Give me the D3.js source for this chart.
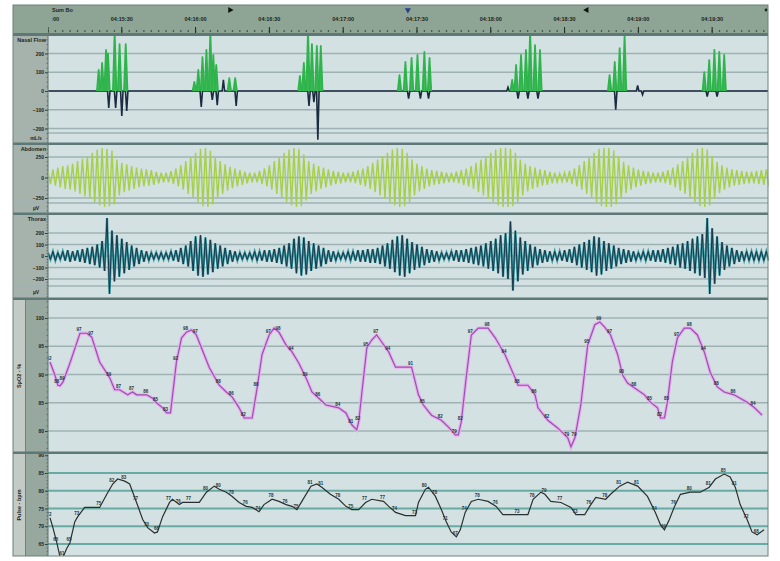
<!DOCTYPE html>
<html>
<head>
<meta charset="utf-8">
<script src="https://cdn.jsdelivr.net/npm/d3@7"></script>
<style>
  body { margin: 0; background: #fff; }
  svg { display: block; }
  text { font-family: "Liberation Sans", Arial, sans-serif; }
</style>
</head>
<body>
<div id="chart"></div>
<script>
// TIME AXIS (seconds after 04:15:00)
var timeTicks = [0, 30, 60, 90, 120, 150, 180, 210, 240, 270];
var timeLabels = ["04:15:00", "04:15:30", "04:16:00", "04:16:30", "04:17:00",
                  "04:17:30", "04:18:00", "04:18:30", "04:19:00", "04:19:30"];
var markerTimes = [74, 146.3, 219, 292];

// Y TICKS
var nasalTicks = [200, 100, 0, -100, -200];
var abdomenTicks = [250, 0, -250];
var thoraxTicks = [200, 100, 0, -100, -200];
var spo2Ticks = [100, 95, 90, 85, 80];
var pulseTicks = [90, 85, 80, 75, 70, 65];

// NASAL FLOW - inspiratory spikes (green) [t, mL/s]
var nasalInsp = [
  [20.6, 112], [22.0, 150], [23.6, 219], [24.4, 200], [27.1, 320], [29.1, 250], [31.6, 250],
  [59.5, 48], [61.1, 112], [62.8, 181], [64.4, 219], [66.0, 320], [67.2, 192], [68.4, 139], [73.7, 69], [76.1, 69],
  [102.4, 80], [104.0, 150], [105.7, 320], [107.3, 250], [109.3, 240], [110.9, 240],
  [142.9, 85], [145.3, 155], [147.8, 176], [150.2, 192], [153.0, 208], [155.1, 176],
  [188.7, 59], [190.3, 139], [192.3, 192], [194.3, 219], [196.0, 320], [198.0, 245], [200.0, 219],
  [228.3, 85], [230.4, 155], [232.4, 229], [234.4, 300],
  [266.8, 101], [268.8, 165], [270.9, 219], [272.9, 208], [274.9, 192]
];
// NASAL FLOW - baseline deflections (dark) [t, mL/s]
var nasalBase = [
  [24.7, -91], [27.5, -91], [30.0, -133], [32.0, -107],
  [62.3, -85], [66.8, -48], [68.8, -75], [71.3, 59], [76.5, -80],
  [106.1, -80], [108.1, -60], [109.7, -260],
  [146.6, -40], [151.4, -40], [154.7, -40],
  [187.0, 20], [191.1, -40], [195.1, -40], [199.2, -40],
  [230.8, -100], [239.7, 30], [241.7, -20],
  [268.0, -30], [272.0, -30]
];

// EFFORT BELTS - amplitude of each 2 s breath (µV)
var breathStep = 2;
var abdomenAmp = [
  80, 100, 120, 140, 150, 170, 200, 230, 260, 300, 340, 360, 350, 330,
  220, 180, 160, 140, 120, 110, 100, 90, 70, 60, 60, 80, 110, 150, 200,
  250, 300, 350, 360, 330, 250, 200, 160, 130, 110, 90, 70, 60, 60, 80,
  110, 150, 200, 250, 300, 340, 360, 350, 280, 200, 170, 140, 120, 100, 80,
  70, 60, 60, 70, 90, 110, 140, 180, 220, 260, 300, 340, 360, 350, 300,
  220, 170, 140, 110, 90, 80, 70, 60, 60, 70, 90, 110, 140, 180, 220,
  260, 300, 340, 360, 360, 350, 300, 220, 170, 140, 120, 100, 90, 70, 60,
  50, 60, 80, 110, 150, 200, 250, 300, 350, 360, 360, 330, 260, 190, 150,
  120, 100, 80, 70, 60, 60, 70, 90, 120, 160, 200, 250, 300, 350, 360,
  340, 260, 190, 150, 120, 100, 90, 80, 70, 70, 80, 90, 100
];
var thoraxAmp = [
  30, 40, 30, 40, 50, 40, 50, 60, 70, 80, 100, 130, 330, 220,
  180, 150, 120, 90, 70, 50, 40, 30, 30, 30, 30, 40, 50, 70, 90,
  130, 170, 180, 160, 140, 110, 90, 70, 50, 40, 30, 30, 30, 40, 40,
  50, 50, 60, 70, 90, 110, 150, 170, 160, 130, 110, 90, 70, 50, 40,
  30, 30, 40, 40, 50, 50, 60, 60, 70, 90, 110, 140, 170, 180, 150,
  120, 100, 80, 60, 50, 40, 30, 30, 40, 50, 50, 60, 70, 80, 90,
  110, 130, 150, 180, 200, 300, 220, 160, 130, 100, 80, 60, 50, 40, 40,
  40, 50, 60, 80, 100, 120, 140, 170, 160, 130, 110, 90, 70, 60, 50,
  40, 30, 40, 40, 50, 50, 60, 70, 80, 100, 110, 130, 150, 170, 190,
  330, 240, 170, 120, 90, 70, 50, 40, 40, 40, 40, 40, 40
];

// SPO2 [t, %]
var spo2 = [
  [0.8, 92.2], [2.8, 89.9], [4.0, 88.1], [4.9, 88.0], [6.1, 88.7], [8.9, 92.0], [13.0, 97.3], [15.8, 97.3],
  [17.8, 96.6], [21.0, 92.2], [25.1, 89.4], [27.1, 87.3], [29.1, 87.3], [32.4, 86.4], [34.4, 86.9], [36.0, 86.4],
  [40.1, 86.4], [42.5, 85.8], [44.1, 85.0], [46.6, 84.1], [48.2, 83.2], [49.8, 83.2], [52.2, 92.2], [54.3, 96.5],
  [56.3, 97.5], [58.3, 97.9], [60.3, 97.0], [65.6, 91.2], [69.6, 88.1], [72.5, 86.9], [74.9, 86.0], [77.7, 84.1],
  [79.8, 82.3], [83.0, 82.3], [85.0, 87.6], [87.0, 93.5], [89.9, 97.0], [91.9, 98.2], [93.9, 97.5], [96.8, 95.2],
  [99.2, 94.0], [102.0, 92.0], [104.9, 89.4], [107.3, 86.9], [110.1, 85.8], [113.0, 84.6], [118.2, 84.1], [121.1, 83.2],
  [123.5, 81.1], [125.5, 80.2], [126.3, 81.6], [127.5, 86.4], [129.6, 94.7], [131.6, 96.1], [133.6, 97.0], [135.6, 95.8],
  [138.5, 94.0], [141.3, 91.3], [147.8, 91.3], [150.6, 86.4], [152.6, 84.6], [155.9, 82.8], [159.9, 81.9], [162.8, 80.7],
  [165.6, 79.3], [166.8, 79.3], [168.0, 81.6], [170.0, 89.4], [172.1, 97.0], [174.9, 98.2], [178.9, 98.2], [181.8, 96.5],
  [185.8, 93.5], [189.9, 89.4], [191.1, 88.1], [195.1, 88.1], [198.0, 86.4], [199.2, 84.1], [203.2, 81.9], [207.3, 80.5],
  [211.3, 78.8], [212.6, 77.2], [214.2, 78.8], [216.6, 84.6], [219.4, 95.2], [222.3, 98.8], [224.3, 99.3], [226.3, 98.4],
  [228.7, 97.0], [231.6, 93.5], [233.6, 89.9], [235.6, 88.5], [238.5, 87.6], [242.5, 86.4], [244.9, 85.1], [247.8, 84.1],
  [249.0, 82.3], [250.6, 82.3], [251.8, 85.1], [253.8, 92.2], [255.9, 96.5], [258.7, 98.2], [261.1, 98.2], [264.0, 97.0],
  [266.8, 94.0], [269.2, 90.4], [272.1, 87.8], [274.9, 86.9], [278.9, 86.4], [284.2, 85.1], [287.0, 84.2], [290.3, 82.8]
];

// PULSE [t, bpm]
var pulse = [
  [0.8, 72.4], [2.0, 69.6], [3.6, 65.3], [4.9, 61.3], [6.1, 61.3], [7.7, 63.9], [8.9, 65.3], [10.9, 71.3],
  [12.1, 72.7], [14.9, 75.3], [21.0, 75.3], [23.9, 79.0], [26.3, 81.9], [28.3, 83.3], [31.2, 82.7], [33.2, 81.9],
  [36.0, 76.7], [38.5, 71.9], [40.5, 69.6], [43.3, 68.1], [44.5, 68.4], [46.6, 72.7], [49.4, 76.7], [50.6, 77.6],
  [53.4, 76.1], [54.7, 76.7], [57.5, 76.7], [61.5, 76.7], [64.4, 79.6], [67.6, 81.3], [69.6, 80.4], [72.5, 79.6],
  [74.9, 78.4], [77.7, 76.7], [80.6, 75.6], [83.0, 75.3], [85.8, 74.1], [87.8, 76.1], [91.1, 77.6], [93.9, 77.0],
  [96.8, 76.1], [99.2, 75.6], [101.2, 74.7], [103.2, 77.0], [106.9, 81.3], [109.3, 81.9], [111.3, 81.0], [114.8, 79.0],
  [118.2, 77.6], [121.1, 75.6], [123.5, 74.7], [126.3, 74.7], [129.1, 76.7], [131.6, 77.6], [136.4, 77.0], [138.5, 75.6],
  [141.3, 73.9], [145.3, 73.0], [149.4, 73.0], [150.6, 76.7], [153.4, 80.4], [154.7, 81.0], [157.5, 78.4], [159.9, 74.7],
  [161.9, 71.3], [163.9, 68.4], [166.0, 67.0], [167.6, 69.0], [169.6, 73.9], [172.1, 77.0], [174.9, 77.6], [178.9, 77.0],
  [182.2, 75.6], [184.9, 73.3], [191.1, 73.3], [195.1, 73.3], [197.2, 77.6], [200.4, 79.6], [202.0, 79.0], [204.4, 77.0],
  [208.5, 76.7], [212.6, 75.3], [214.6, 73.3], [218.2, 73.3], [220.2, 75.6], [222.7, 78.1], [226.7, 77.6], [228.7, 79.0],
  [232.4, 81.3], [235.6, 82.4], [239.7, 81.3], [243.7, 78.4], [246.9, 73.9], [249.0, 70.4], [250.6, 69.0], [252.6, 71.9],
  [254.7, 75.6], [257.1, 79.0], [261.1, 79.6], [265.2, 79.6], [268.8, 81.0], [271.3, 83.3], [274.9, 84.7], [277.3, 83.9],
  [279.4, 81.0], [281.4, 76.1], [284.2, 71.9], [286.2, 68.4], [288.3, 67.6], [291.1, 69.0]
];

// LAYOUT
var frameL = 13, frameR = 768, plotL = 48, frameTop = 5;
var plotBg = '#d3e1e2', gridCol = '#9fb2b3', sepCol = '#5d7877', colBg = '#a6b2ac';

var svg = d3.select('#chart').append('svg').attr('width', 780).attr('height', 561);

var x = d3.scaleLinear().domain([0, 292.7]).range([plotL, frameR]);

// frame + header
svg.append('rect').attr('x', frameL).attr('y', frameTop).attr('width', frameR - frameL)
  .attr('height', 551).attr('fill', colBg);
svg.append('rect').attr('x', frameL).attr('y', frameTop).attr('width', frameR - frameL)
  .attr('height', 28).attr('fill', '#8ea595');
svg.append('rect').attr('x', frameL).attr('y', 33).attr('width', frameR - frameL)
  .attr('height', 3).attr('fill', sepCol);

svg.append('text').attr('x', 52).attr('y', 12).attr('font-size', 5.5).attr('font-weight', 'bold')
  .attr('fill', '#1d2622').text('Sum Bo');

svg.append('clipPath').attr('id', 'hdrclip').append('rect')
  .attr('x', 52).attr('y', 0).attr('width', frameR - 52).attr('height', 40);
svg.append('clipPath').attr('id', 'tickclip').append('rect')
  .attr('x', plotL).attr('y', 0).attr('width', frameR - plotL).attr('height', 40);

var hdr = svg.append('g').attr('clip-path', 'url(#hdrclip)');
hdr.selectAll('text.tl').data(timeTicks).enter().append('text')
  .attr('class', 'tl')
  .attr('x', (d) => x(d))
  .attr('y', 21)
  .attr('text-anchor', 'middle')
  .attr('font-size', 5.5).attr('font-weight', 'bold').attr('fill', '#1a2420')
  .text((d, i) => timeLabels[i]);
var tk = svg.append('g').attr('clip-path', 'url(#tickclip)');
tk.selectAll('line.maj').data(timeTicks).enter().append('line')
  .attr('x1', (d) => x(d)).attr('x2', (d) => x(d))
  .attr('y1', 27).attr('y2', 33).attr('stroke', '#222').attr('stroke-width', 1);
tk.selectAll('circle.min').data(d3.range(0, 293, 3)).enter().append('circle')
  .attr('cx', (d) => x(d)).attr('cy', 31).attr('r', 0.8).attr('fill', '#26322f');

// header markers
var markerShapes = [
  { type: d3.symbolTriangle, rot: 90, fill: '#111' },
  { type: d3.symbolTriangle, rot: 180, fill: '#2b3f86' },
  { type: d3.symbolTriangle, rot: -90, fill: '#111' },
  { type: d3.symbolCircle, rot: 0, fill: '#222' }
];
svg.selectAll('path.mk').data(markerTimes).enter().append('path')
  .attr('d', (d, i) => d3.symbol().type(markerShapes[i].type).size(i === 3 ? 6 : 16)())
  .attr('transform', (d, i) => 'translate(' + Math.min(x(d), 766) + ',10) rotate(' + markerShapes[i].rot + ')')
  .attr('fill', (d, i) => markerShapes[i].fill);

// PANELS
var panels = [
  { id: 'nasal', top: 36, bottom: 143, unitY: 133, unit: 'mL/s', title: 'Nasal Flow',
    y: d3.scaleLinear().domain([-200, 200]).range([128.5, 53.5]), ticks: nasalTicks, minor: 25 },
  { id: 'abd', top: 145, bottom: 213, unitY: 203, unit: 'µV', title: 'Abdomen',
    y: d3.scaleLinear().domain([-250, 250]).range([198, 157]), ticks: abdomenTicks, minor: 50 },
  { id: 'thx', top: 215, bottom: 298, unitY: 286, unit: 'µV', title: 'Thorax',
    y: d3.scaleLinear().domain([-200, 200]).range([279, 233]), ticks: thoraxTicks, minor: 25 },
  { id: 'spo2', top: 300, bottom: 452, title: 'SpO2 - %', rotated: true,
    y: d3.scaleLinear().domain([80, 100]).range([431, 318]), ticks: spo2Ticks, minor: 1 },
  { id: 'pulse', top: 454, bottom: 556, title: 'Pulse - bpm', rotated: true,
    y: d3.scaleLinear().domain([65, 85]).range([544, 473]), ticks: pulseTicks, minor: 1 }
];

panels.forEach(function (p) {
  var g = svg.append('g');
  g.append('rect').attr('x', plotL).attr('y', p.top).attr('width', frameR - plotL)
    .attr('height', p.bottom - p.top).attr('fill', plotBg);

  if (p.rotated) {
    g.append('rect').attr('x', frameL).attr('y', p.top).attr('width', 12)
      .attr('height', p.bottom - p.top).attr('fill', '#c2cbc6');
    g.append('rect').attr('x', 25).attr('y', p.top).attr('width', plotL - 25)
      .attr('height', p.bottom - p.top).attr('fill', '#97a89e');
    g.append('line').attr('x1', 25.5).attr('x2', 25.5).attr('y1', p.top).attr('y2', p.bottom)
      .attr('stroke', '#6f837a').attr('stroke-width', 1);
    var cy = (p.top + p.bottom) / 2;
    g.append('text').attr('transform', 'translate(21,' + cy + ') rotate(-90)')
      .attr('text-anchor', 'middle').attr('font-size', 5.5).attr('font-weight', 'bold')
      .attr('fill', '#1d2622').text(p.title);
  } else {
    g.append('text').attr('x', plotL - 2).attr('y', p.top + 6).attr('text-anchor', 'end')
      .attr('font-size', 5.5).attr('font-weight', 'bold').attr('fill', '#1d2622').text(p.title);
    g.append('line').attr('x1', frameL).attr('x2', frameR).attr('y1', p.unitY).attr('y2', p.unitY)
      .attr('stroke', gridCol).attr('stroke-width', 1.5);
    g.append('text').attr('x', plotL - 12).attr('y', (p.unitY + p.bottom) / 2 + 2).attr('text-anchor', 'middle')
      .attr('font-size', 5).attr('font-weight', 'bold').attr('fill', '#1d2622').text(p.unit);
  }

  // gridlines
  var gridC = p.id === 'pulse' ? '#68aaa4' : gridCol;
  g.selectAll('line.grid').data(p.ticks.filter((d) => {
      var yy = p.y(d); return yy > p.top + 3 && yy < p.bottom - 1;
    })).enter().append('line')
    .attr('x1', plotL).attr('x2', frameR)
    .attr('y1', (d) => p.y(d)).attr('y2', (d) => p.y(d))
    .attr('stroke', gridC).attr('stroke-width', p.id === 'pulse' ? 1.8 : 1.5);

  // axis
  var lo = p.y.invert(p.bottom), hi = p.y.invert(p.top);
  var minorVals = d3.range(Math.ceil(lo / p.minor) * p.minor, hi, p.minor);
  var minorAxis = d3.axisLeft(p.y).tickValues(minorVals).tickSize(1.5).tickFormat('');
  var ga = g.append('g').attr('transform', 'translate(' + plotL + ',0)').call(minorAxis);
  ga.select('.domain').remove();
  ga.selectAll('line').attr('stroke', '#3c4a46').attr('stroke-width', 0.6);

  var majorAxis = d3.axisLeft(p.y).tickValues(p.ticks).tickSize(3).tickPadding(1);
  var gm = g.append('g').attr('transform', 'translate(' + plotL + ',0)').call(majorAxis);
  gm.select('.domain').remove();
  gm.selectAll('line').attr('stroke', '#2b3633').attr('stroke-width', 0.9);
  gm.selectAll('text').attr('font-size', 5).attr('font-weight', 'bold').attr('fill', '#1b2420')
    .attr('font-family', '"Liberation Sans", Arial, sans-serif');

  g.append('line').attr('x1', plotL).attr('x2', plotL).attr('y1', p.top).attr('y2', p.bottom)
    .attr('stroke', '#5f726c').attr('stroke-width', 1);

  svg.append('clipPath').attr('id', 'clip-' + p.id).append('rect')
    .attr('x', plotL + 0.5).attr('y', p.top).attr('width', frameR - plotL).attr('height', p.bottom - p.top);
  p.layer = svg.append('g').attr('clip-path', 'url(#clip-' + p.id + ')');
});

// separators
panels.slice(1).forEach(function (p) {
  svg.append('rect').attr('x', frameL).attr('y', p.top - 2.5).attr('width', frameR - frameL)
    .attr('height', 2.5).attr('fill', sepCol);
});
svg.append('rect').attr('x', frameL).attr('y', frameTop).attr('width', frameR - frameL)
  .attr('height', 551).attr('fill', 'none').attr('stroke', '#6d807a').attr('stroke-width', 1);

// NASAL FLOW
var pN = panels[0];
var basePts = [[0, 0]];
nasalBase.forEach(function (d) { basePts.push([d[0] - 0.5, 0], d, [d[0] + 0.5, 0]); });
basePts.push([292.7, 0]);
pN.layer.append('path')
  .attr('d', d3.line().x((d) => x(d[0])).y((d) => pN.y(d[1]))(basePts))
  .attr('fill', 'none').attr('stroke', '#1b2b40').attr('stroke-width', 1.6);
pN.layer.selectAll('path.insp').data(nasalInsp).enter().append('path')
  .attr('d', (d) => d3.line().x((e) => x(e[0])).y((e) => pN.y(e[1]))([[d[0] - 0.7, 0], d, [d[0] + 0.7, 0]]))
  .attr('fill', '#3bbb55').attr('stroke', '#2fb34c').attr('stroke-width', 1.8).attr('stroke-linejoin', 'round');

// EFFORT BELTS
function beltPoints(amp) {
  var pts = [];
  amp.forEach(function (a, i) {
    pts.push([i * breathStep, a], [i * breathStep + breathStep / 2, -a]);
  });
  return pts;
}
var pA = panels[1];
pA.layer.append('path')
  .attr('d', d3.line().x((d) => x(d[0])).y((d) => pA.y(d[1]))(beltPoints(abdomenAmp)))
  .attr('fill', 'none').attr('stroke', '#a6d04a').attr('stroke-width', 1.4);

var pT = panels[2];
var thxLine = d3.line().x((d) => x(d[0])).y((d) => pT.y(d[1]));
pT.layer.append('path').attr('d', thxLine(beltPoints(thoraxAmp)))
  .attr('fill', 'none').attr('stroke', '#3a9aa3').attr('stroke-width', 2.2);
pT.layer.append('path').attr('d', thxLine(beltPoints(thoraxAmp)))
  .attr('fill', 'none').attr('stroke', '#16384a').attr('stroke-width', 1);

// SPO2
var pS = panels[3];
var spoLine = d3.line().x((d) => x(d[0])).y((d) => pS.y(d[1]));
pS.layer.append('path').attr('d', spoLine(spo2))
  .attr('fill', 'none').attr('stroke', '#e4b2ea').attr('stroke-width', 3.4);
pS.layer.append('path').attr('d', spoLine(spo2))
  .attr('fill', 'none').attr('stroke', '#9f4cb6').attr('stroke-width', 1.2);
pS.layer.selectAll('text.ann').data(spo2.filter((d, i) => i % 2 === 0)).enter().append('text')
  .attr('x', (d) => x(d[0]) - 1).attr('y', (d) => pS.y(d[1]) - 2)
  .attr('text-anchor', 'middle').attr('font-size', 4.5).attr('font-weight', 'bold')
  .attr('fill', '#23363f').text((d) => Math.round(d[1]));

// PULSE
var pP = panels[4];
pP.layer.append('path')
  .attr('d', d3.line().x((d) => x(d[0])).y((d) => pP.y(d[1]))(pulse))
  .attr('fill', 'none').attr('stroke', '#2a302f').attr('stroke-width', 1.2);
pP.layer.selectAll('text.ann').data(pulse.filter((d, i) => i % 2 === 0)).enter().append('text')
  .attr('x', (d) => x(d[0]) - 1).attr('y', (d) => pP.y(d[1]) - 2)
  .attr('text-anchor', 'middle').attr('font-size', 4.5).attr('font-weight', 'bold')
  .attr('fill', '#23363f').text((d) => Math.round(d[1]));
</script>
</body>
</html>
